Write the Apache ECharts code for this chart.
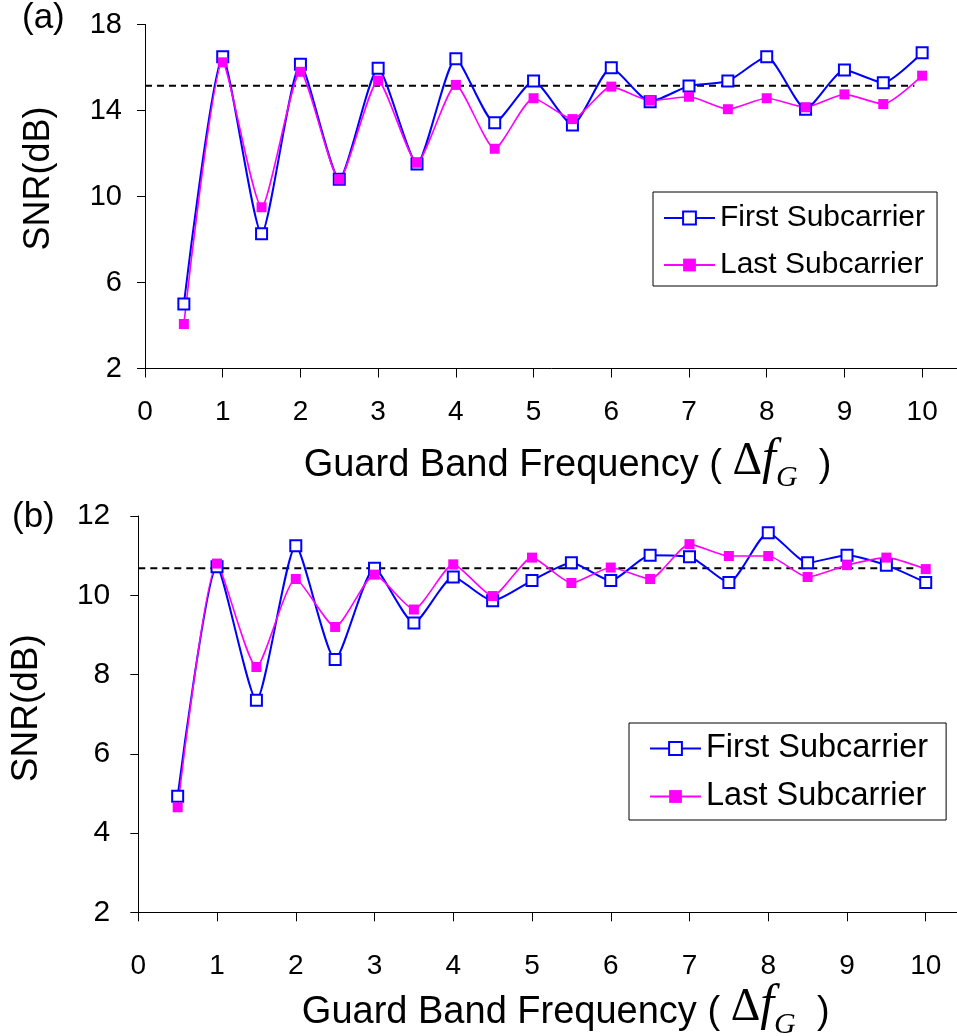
<!DOCTYPE html>
<html><head><meta charset="utf-8">
<script src="https://cdn.jsdelivr.net/npm/echarts@6/dist/echarts.min.js"></script>
<style>html,body{margin:0;padding:0;background:#fff}#c{width:957px;height:1036px}</style>
</head><body><div id="c"></div>
<script>
// ---- data ----
const xValues = [0.5,1,1.5,2,2.5,3,3.5,4,4.5,5,5.5,6,6.5,7,7.5,8,8.5,9,9.5,10];
const firstA = [5.0,16.5,8.27,16.15,10.8,15.96,11.51,16.41,13.43,15.37,13.33,15.99,14.41,15.14,15.37,16.5,14.06,15.88,15.29,16.69];
const lastA  = [4.07,16.24,9.5,15.8,10.8,15.39,11.57,15.19,12.22,14.57,13.6,15.11,14.46,14.64,14.06,14.57,14.15,14.75,14.3,15.62];
const refA = 15.15;
const firstB = [4.93,10.72,7.35,11.25,8.38,10.68,9.3,10.46,9.86,10.37,10.82,10.37,11.01,10.97,10.32,11.58,10.82,11.01,10.76,10.32];
const lastB  = [4.65,10.8,8.19,10.41,9.2,10.52,9.64,10.78,9.98,10.95,10.31,10.7,10.41,11.29,10.99,10.99,10.46,10.76,10.95,10.66];
const refB = 10.68;
const refSpan = [0, 9.9];
const seriesNames = ['First Subcarrier', 'Last Subcarrier'];
const panelLabels = ['(a)', '(b)'];
const yTitle = 'SNR(dB)';

// ---- chart ----
const SANS = 'Liberation Sans, Arial, sans-serif';
const SERIF = 'Liberation Serif, Times New Roman, serif';
const pairs = (ys) => xValues.map((x, i) => [x, ys[i]]);
const xTitleRich = {
  n: {fontFamily: SANS, fontSize: 38, color: '#000', lineHeight: 44, verticalAlign: 'bottom'},
  d: {fontFamily: SERIF, fontSize: 46, color: '#000', lineHeight: 48, verticalAlign: 'bottom'},
  f: {fontFamily: SERIF, fontStyle: 'italic', fontSize: 50, color: '#000', lineHeight: 50, verticalAlign: 'bottom'},
  g: {fontFamily: SERIF, fontStyle: 'italic', fontSize: 30, color: '#000', lineHeight: 20, verticalAlign: 'top', padding: [29, 0, 0, 0]}
};
const xTitle = '{n|Guard Band Frequency ( }{d|Δ}{f|f}{g|G}{n|  )}';

function xAxisCfg(gridIndex, margin, nameGap, shift) {
  return {
    type: 'value', gridIndex, min: 0, max: 10.5, interval: 1,
    axisLine: {lineStyle: {color: '#000', width: 1}},
    axisTick: {inside: false, length: 9, lineStyle: {color: '#000'}},
    splitLine: {show: false},
    axisLabel: {margin, fontFamily: SANS, fontSize: 28, color: '#000',
      formatter: v => Number.isInteger(v) ? String(v) : ''},
    name: xTitle, nameLocation: 'middle', nameGap,
    nameTextStyle: {rich: xTitleRich, padding: [0, 0, 0, shift]}
  };
}
function yAxisCfg(gridIndex, min, max, interval, margin, fontSize, nameGap, nameSize, shift) {
  return {
    type: 'value', gridIndex, min, max, interval,
    axisLine: {show: true, lineStyle: {color: '#000', width: 1}},
    axisTick: {show: true, inside: false, length: 8, lineStyle: {color: '#000'}},
    splitLine: {show: false},
    axisLabel: {margin, fontFamily: SANS, fontSize, color: '#000'},
    name: yTitle, nameLocation: 'middle', nameRotate: 90, nameGap,
    nameTextStyle: {fontFamily: SANS, fontSize: nameSize, color: '#000', padding: [0, 0, 0, shift]}
  };
}
function lineSeries(name, idx, ys, isFirst) {
  return isFirst ? {
    name, type: 'line', xAxisIndex: idx, yAxisIndex: idx, data: pairs(ys),
    smooth: 0.2, symbol: 'rect', symbolSize: 11, showAllSymbol: true,
    lineStyle: {color: '#0000ff', width: 2},
    itemStyle: {color: '#ffffff', borderColor: '#0000ff', borderWidth: 2}
  } : {
    name, type: 'line', xAxisIndex: idx, yAxisIndex: idx, data: pairs(ys),
    smooth: 0.2, symbol: 'rect', symbolSize: 10, showAllSymbol: true,
    lineStyle: {color: '#ff00ff', width: 1.6},
    itemStyle: {color: '#ff00ff'}
  };
}
function refSeries(idx, v) {
  return {
    name: 'ref', type: 'line', xAxisIndex: idx, yAxisIndex: idx,
    data: refSpan.map(x => [x, v]), symbol: 'none', silent: true, z: 1,
    lineStyle: {color: '#000', width: 2, type: [7, 5]}
  };
}
function legendCfg(left, top, padding, itemGap, fontSize) {
  return {
    data: seriesNames, orient: 'vertical', left, top, padding, itemGap,
    itemWidth: 51, itemHeight: 16, selectedMode: false,
    borderColor: '#000', borderWidth: 1, backgroundColor: '#fff',
    textStyle: {fontFamily: SANS, fontSize, color: '#000', lineHeight: Math.round(fontSize)}
  };
}

const chart = echarts.init(document.getElementById('c'), null, {renderer: 'canvas'});
chart.setOption({
  animation: false,
  backgroundColor: '#fff',
  grid: [
    {left: 145, top: 24.5, width: 816, height: 344, outerBoundsMode: 'none', containLabel: false},
    {left: 138.3, top: 516, width: 826.8, height: 396.3, outerBoundsMode: 'none', containLabel: false}
  ],
  xAxis: [xAxisCfg(0, 30, 66, 29), xAxisCfg(1, 40, 67, 28)],
  yAxis: [
    yAxisCfg(0, 2, 18, 4, 23, 29, 88, 36, 36),
    yAxisCfg(1, 2, 12, 2, 28, 30, 93, 37, 12)
  ],
  legend: [
    legendCfg(653, 192, [11, 12, 6, 10], 17, 30),
    legendCfg(629, 723, [9, 18, 7, 20], 15, 32.5)
  ],
  graphic: [
    {type: 'text', x: 22, y: 18, style: {text: panelLabels[0], font: '35px ' + SANS, fill: '#000', textVerticalAlign: 'middle'}},
    {type: 'text', x: 12, y: 517, style: {text: panelLabels[1], font: '35px ' + SANS, fill: '#000', textVerticalAlign: 'middle'}}
  ],
  series: [
    refSeries(0, refA),
    lineSeries(seriesNames[0], 0, firstA, true),
    lineSeries(seriesNames[1], 0, lastA, false),
    refSeries(1, refB),
    lineSeries(seriesNames[0], 1, firstB, true),
    lineSeries(seriesNames[1], 1, lastB, false)
  ]
});
</script></body></html>
